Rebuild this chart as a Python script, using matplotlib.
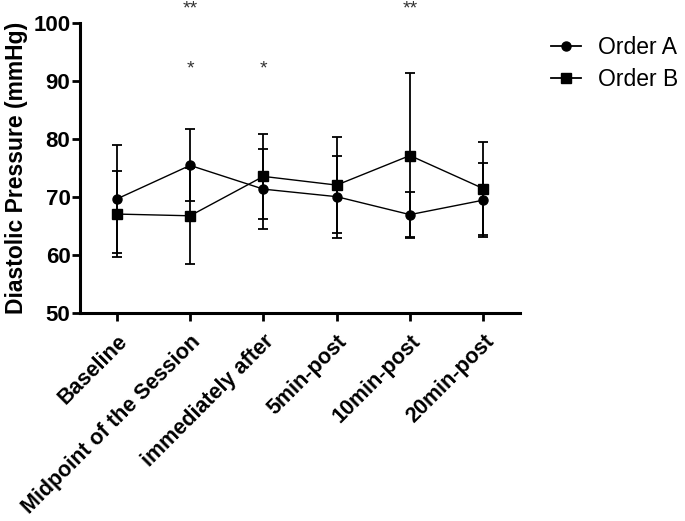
import matplotlib
matplotlib.use('Agg')
import matplotlib.pyplot as plt
from matplotlib.lines import Line2D
from matplotlib.transforms import blended_transform_factory

plt.rcParams['font.family'] = ['Liberation Sans', 'DejaVu Sans']

# data
timepoints = ['Baseline', 'Midpoint of the Session', 'immediately after',
              '5min-post', '10min-post', '20min-post']
order_a_mean = [69.7, 75.5, 71.4, 70.1, 67.0, 69.5]
order_a_sd = [9.3, 6.2, 6.9, 7.1, 3.9, 6.4]
order_b_mean = [67.1, 66.8, 73.6, 72.1, 77.2, 71.5]
order_b_sd = [7.4, 8.3, 7.3, 8.3, 14.3, 8.1]

# significance marks (timepoint indexes)
sig_single = [1, 2]
sig_double = [1, 4]

fig = plt.figure(figsize=(6.85, 5.21), dpi=100)
ax = fig.add_axes([0.117, 0.399, 0.642, 0.556])

x = list(range(len(timepoints)))

ax.errorbar(x, order_a_mean, yerr=order_a_sd, color='black', marker='o',
            markersize=6.5, linewidth=1.0, elinewidth=1.3, capsize=3.8,
            capthick=1.3)
ax.errorbar(x, order_b_mean, yerr=order_b_sd, color='black', marker='s',
            markersize=7, linewidth=1.0, elinewidth=1.3, capsize=3.8,
            capthick=1.3)

# asterisks
for i in sig_single:
    ax.text(i, 91.3, '*', ha='center', va='baseline', fontsize=14,
            color='#333333', clip_on=False)
top_trans = blended_transform_factory(ax.transData, fig.transFigure)
for i in sig_double:
    ax.text(i, 0.999, '**', ha='center', va='top', fontsize=14,
            color='#333333', clip_on=False, transform=top_trans)

ax.set_xlim(-0.5, 5.5)
ax.set_ylim(50, 100)
ax.set_yticks([50, 60, 70, 80, 90, 100])
ax.set_xticks(x)
ax.set_xticklabels(timepoints, rotation=45, ha='right', rotation_mode='anchor',
                   fontsize=15.5, fontweight='bold')
for lab in ax.get_yticklabels():
    lab.set_fontsize(16)
    lab.set_fontweight('bold')

ax.set_ylabel('Diastolic Pressure (mmHg)', fontsize=16.5, fontweight='bold',
              labelpad=4)

for side in ['top', 'right']:
    ax.spines[side].set_visible(False)
for side in ['left', 'bottom']:
    ax.spines[side].set_linewidth(2.2)
ax.tick_params(axis='both', width=2.0, length=6, direction='out')
ax.tick_params(axis='y', pad=1)
ax.tick_params(axis='x', pad=7)

handles = [Line2D([], [], color='black', marker='o', markersize=6.5, linewidth=1.3),
           Line2D([], [], color='black', marker='s', markersize=6.5, linewidth=1.3)]
ax.legend(handles, ['Order A', 'Order B'], loc='upper left',
          bbox_to_anchor=(1.05, 0.988), frameon=False, fontsize=16.5,
          handlelength=1.3, handletextpad=0.75, labelspacing=0.4,
          borderaxespad=0.0)

fig.savefig('out.png', dpi=100)
